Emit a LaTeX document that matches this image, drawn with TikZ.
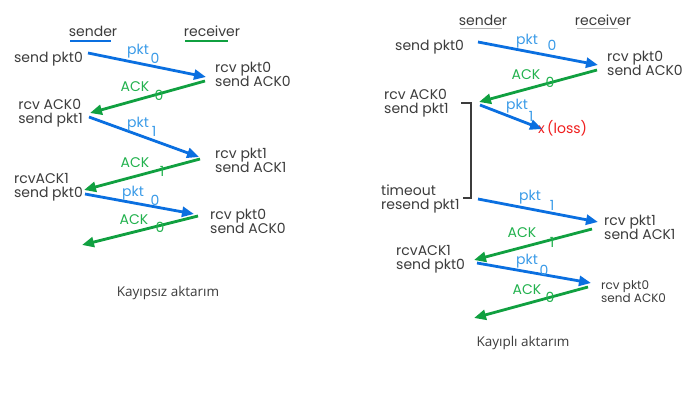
\documentclass[tikz,border=0pt]{standalone}
\usepackage{fontspec}
\setmainfont{Poppins}
\newfontfamily\titlefont{Open Sans}
\usetikzlibrary{arrows.meta,positioning}
\definecolor{PktBlue}{HTML}{0A6FE0}
\definecolor{PktLabel}{HTML}{3A9BE8}
\definecolor{AckGreen}{HTML}{10A040}
\definecolor{AckLabel}{HTML}{22B24E}
\definecolor{TextGray}{HTML}{3C3C3C}
\definecolor{RuleGray}{HTML}{B4B4B4}
\definecolor{LossRed}{HTML}{F01E1E}
\tikzset{
    % event text beside a time line
    eventnode/.style={
        inner sep=0pt,
        align=left,
        text=TextGray,
        font=\fontsize{14}{14}\selectfont
    },
    smallevent/.style={
        eventnode,
        font=\fontsize{12}{11.5}\selectfont
    },
    % column heading
    headnode/.style={
        inner sep=0pt,
        text=TextGray,
        font=\fontsize{14}{14}\selectfont
    },
    % packet and ack labels
    pktlabel/.style={
        inner sep=0pt,
        text=PktLabel,
        font=\fontsize{14}{14}\selectfont
    },
    acklabel/.style={
        inner sep=0pt,
        text=AckLabel,
        font=\fontsize{14}{14}\selectfont
    },
    % caption under each case
    titlenode/.style={
        inner sep=0pt,
        text=TextGray,
        font=\titlefont\fontsize{13.5}{14}\selectfont
    },
    % arrows
    pktarrow/.style={
        -{Triangle[length=12pt,width=10pt]},
        line width=2.8pt,
        draw=PktBlue
    },
    ackarrow/.style={
        -{Triangle[length=12pt,width=10pt]},
        line width=2.8pt,
        draw=AckGreen
    }
}
\begin{document}
\begin{tikzpicture}[x=1pt,y=-1pt]
    \useasboundingbox[fill=white] (0,0) rectangle (692,417);

    % ---- left: no loss ----
    \node[headnode] (ls) at (93,31) {sender};
    \node[headnode] (lr) at (212,31) {receiver};
    \draw[PktBlue, line width=2.2pt] (70,41) -- (111,41);
    \draw[AckGreen, line width=2.2pt] (185,41) -- (228,41);

    \node[eventnode, anchor=east] (le1) at (83,59) {send pkt0};
    \node[eventnode, anchor=west] (le2) at (215,74) {rcv pkt0\\send ACK0};
    \node[eventnode, anchor=east] (le3) at (83,113) {rcv ACK0\\send pkt1};
    \node[eventnode, anchor=west] (le4) at (215,160) {rcv pkt1\\send ACK1};
    \node[eventnode, anchor=east] (le5) at (83,187) {rcvACK1\\send pkt0};
    \node[eventnode, anchor=west] (le6) at (210,221) {rcv pkt0\\send ACK0};

    \coordinate (la1) at (88,53);   \coordinate (la2) at (206,77);
    \coordinate (la3) at (205,81);  \coordinate (la4) at (90,113);
    \coordinate (la5) at (89,117);  \coordinate (la6) at (199,157);
    \coordinate (la7) at (200,159); \coordinate (la8) at (84,190);
    \coordinate (la9) at (85,194);  \coordinate (la10) at (194,214);
    \coordinate (la11) at (198,216); \coordinate (la12) at (82,245);

    \draw[pktarrow] (la1) -- (la2);
    \draw[ackarrow] (la3) -- (la4);
    \draw[pktarrow] (la5) -- (la6);
    \draw[ackarrow] (la7) -- (la8);
    \draw[pktarrow] (la9) -- (la10);
    \draw[ackarrow] (la11) -- (la12);

    \node[pktlabel] (lp1) at (138,51) {pkt};  \node[pktlabel] (lp1s) at (155,58) {0};
    \node[acklabel] (lk1) at (135,87) {ACK};  \node[acklabel] (lk1s) at (159,95) {0};
    \node[pktlabel] (lp2) at (138,124) {pkt}; \node[pktlabel] (lp2s) at (154,131) {1};
    \node[acklabel] (lk2) at (135,163) {ACK}; \node[acklabel] (lk2s) at (162,171) {1};
    \node[pktlabel] (lp3) at (133,193) {pkt}; \node[pktlabel] (lp3s) at (155,200) {0};
    \node[acklabel] (lk3) at (134,220) {ACK}; \node[acklabel] (lk3s) at (160,227) {0};

    \node[titlenode] (lt) at (168,293) {Kayıpsız aktarım};

    % ---- right: packet loss ----
    \node[headnode] (rs) at (483,20) {sender};
    \node[headnode] (rr) at (603,20) {receiver};
    \draw[RuleGray, line width=1pt] (460,29) -- (502,29);
    \draw[RuleGray, line width=1pt] (577,29) -- (618,29);

    \node[eventnode, anchor=west] (re1) at (395,47) {send pkt0};
    \node[eventnode, anchor=west] (re2) at (607,63) {rcv pkt0\\send ACK0};
    \node[eventnode, anchor=west] (re3) at (384,103) {rcv ACK0\\send pkt1};
    \node[eventnode, anchor=west] (re4) at (381,199) {timeout\\resend pkt1};
    \node[eventnode, anchor=west] (re5) at (604,227) {rcv pkt1\\send ACK1};
    \node[eventnode, anchor=west] (re6) at (396,259) {rcvACK1\\send pkt0};
    \node[smallevent, anchor=west] (re7) at (601,292) {rcv pkt0\\send ACK0};
    \node[inner sep=0pt, text=LossRed, font=\fontsize{14}{14}\selectfont, anchor=west] (loss) at (538,128) {x\,(loss)};

    % timer bracket
    \coordinate (tb1) at (461,103); \coordinate (tb2) at (471,103);
    \coordinate (tb3) at (471,198); \coordinate (tb4) at (463,198);
    \draw[TextGray, line width=1.8pt] (tb1) -- (tb2) -- (tb3) -- (tb4);

    \coordinate (ra1) at (478,42);  \coordinate (ra2) at (598,65);
    \coordinate (ra3) at (597,70);  \coordinate (ra4) at (479,102);
    \coordinate (ra5) at (480,105); \coordinate (ra6) at (542,129);
    \coordinate (ra7) at (478,199); \coordinate (ra8) at (598,222);
    \coordinate (ra9) at (592,229); \coordinate (ra10) at (474,260);
    \coordinate (ra11) at (477,263); \coordinate (ra12) at (591,283);
    \coordinate (ra13) at (588,287); \coordinate (ra14) at (474,318);

    \draw[pktarrow] (ra1) -- (ra2);
    \draw[ackarrow] (ra3) -- (ra4);
    \draw[pktarrow] (ra5) -- (ra6);
    \draw[pktarrow] (ra7) -- (ra8);
    \draw[ackarrow] (ra9) -- (ra10);
    \draw[pktarrow] (ra11) -- (ra12);
    \draw[ackarrow] (ra13) -- (ra14);

    \node[pktlabel] (rp1) at (527,41) {pkt};  \node[pktlabel] (rp1s) at (552,45) {0};
    \node[acklabel] (rk1) at (526,75) {ACK};  \node[acklabel] (rk1s) at (550,82) {0};
    \node[pktlabel] (rp2) at (517,106) {pkt}; \node[pktlabel] (rp2s) at (531,116) {1};
    \node[pktlabel] (rp3) at (530,197) {pkt}; \node[pktlabel] (rp3s) at (552,205) {1};
    \node[acklabel] (rk2) at (522,233) {ACK}; \node[acklabel] (rk2s) at (552,242) {1};
    \node[pktlabel] (rp4) at (527,261) {pkt}; \node[pktlabel] (rp4s) at (544,270) {0};
    \node[acklabel] (rk3) at (527,290) {ACK}; \node[acklabel] (rk3s) at (550,297) {0};

    \node[titlenode] (rt) at (523,343) {Kayıplı aktarım};
\end{tikzpicture}
\end{document}
